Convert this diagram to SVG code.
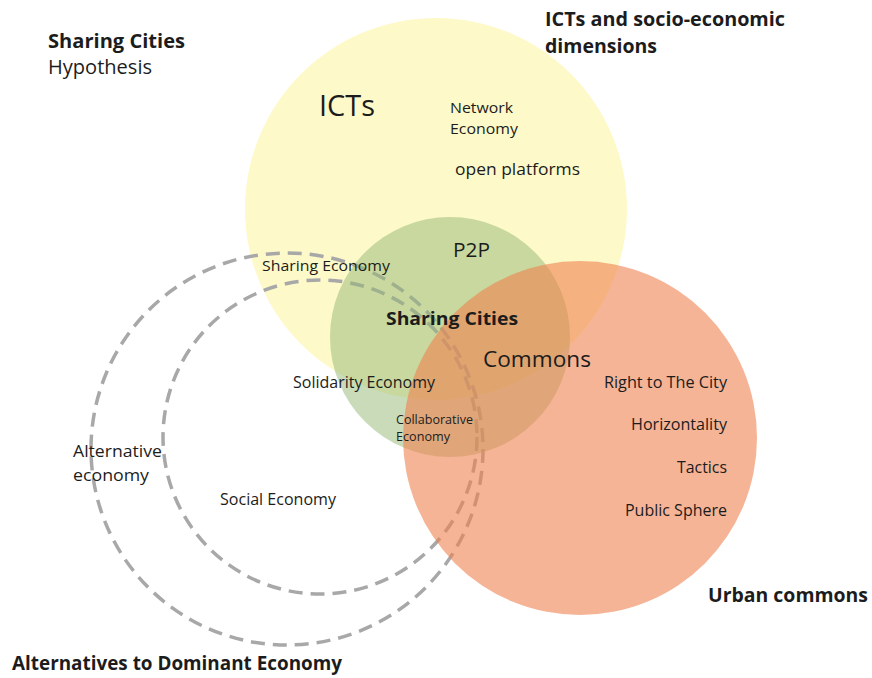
<svg xmlns="http://www.w3.org/2000/svg" width="872" height="678" viewBox="0 0 872 678">
  <style>
    text { font-family: "Open Sans", "Noto Sans", "Liberation Sans", sans-serif; fill: #1c1c1c; }
    .b { font-weight: 700; }
    .dash { fill: none; stroke: #a8a8a8; stroke-width: 3.5; stroke-dasharray: 14 8; }
    .end { text-anchor: end; }
  </style>
  <rect width="872" height="678" fill="#ffffff"/>

  <!-- ICTs circle -->
  <g id="icts">
    <circle cx="436" cy="209" r="191" fill="#fdf9c9"/>
  </g>

  <!-- Alternative economy rings (dashed) -->
  <g id="alternative-economy">
    <circle class="dash" cx="287" cy="449" r="196"/>
    <circle class="dash" cx="320" cy="437" r="157"/>
  </g>

  <!-- Sharing Cities core -->
  <g id="sharing-core">
    <circle cx="450" cy="337" r="120" fill="#93b874" fill-opacity="0.5"/>
  </g>

  <!-- Urban commons circle -->
  <g id="urban-commons">
    <circle cx="580" cy="438" r="177" fill="#f08250" fill-opacity="0.6"/>
  </g>

  <!-- Headings -->
  <g id="title">
    <text class="b" x="48" y="48" font-size="19.5" textLength="137" lengthAdjust="spacingAndGlyphs">Sharing Cities</text>
    <text x="48" y="74" font-size="19.5" textLength="104" lengthAdjust="spacingAndGlyphs">Hypothesis</text>
  </g>
  <g id="icts-heading">
    <text class="b" x="545" y="26" font-size="19" textLength="240" lengthAdjust="spacingAndGlyphs">ICTs and socio-economic</text>
    <text class="b" x="545" y="53" font-size="19" textLength="112" lengthAdjust="spacingAndGlyphs">dimensions</text>
  </g>
  <g id="urban-heading">
    <text class="b" x="708" y="602" font-size="19.5" textLength="160" lengthAdjust="spacingAndGlyphs">Urban commons</text>
  </g>
  <g id="alternatives-heading">
    <text class="b" x="12" y="670" font-size="19" textLength="330" lengthAdjust="spacingAndGlyphs">Alternatives to Dominant Economy</text>
  </g>

  <!-- Labels inside the ICTs circle -->
  <g id="icts-labels">
    <text x="319" y="116" font-size="29.5" textLength="56" lengthAdjust="spacingAndGlyphs">ICTs</text>
    <text x="450" y="113" font-size="15" textLength="63" lengthAdjust="spacingAndGlyphs">Network</text>
    <text x="450" y="134" font-size="15" textLength="68" lengthAdjust="spacingAndGlyphs">Economy</text>
    <text x="455" y="175" font-size="16" textLength="125" lengthAdjust="spacingAndGlyphs">open platforms</text>
  </g>

  <!-- Labels in the overlap area -->
  <g id="core-labels">
    <text x="453" y="257" font-size="19.5" textLength="37" lengthAdjust="spacingAndGlyphs">P2P</text>
    <text x="262" y="271" font-size="15" textLength="128" lengthAdjust="spacingAndGlyphs">Sharing Economy</text>
    <text class="b" x="386" y="325" font-size="18" textLength="132" lengthAdjust="spacingAndGlyphs">Sharing Cities</text>
    <text x="483" y="367" font-size="22.5" textLength="108" lengthAdjust="spacingAndGlyphs">Commons</text>
    <text x="293" y="388" font-size="15.5" textLength="142" lengthAdjust="spacingAndGlyphs">Solidarity Economy</text>
    <text x="396" y="424" font-size="12.5" textLength="77" lengthAdjust="spacingAndGlyphs">Collaborative</text>
    <text x="396" y="441" font-size="12.5" textLength="54" lengthAdjust="spacingAndGlyphs">Economy</text>
  </g>

  <!-- Labels inside the urban commons circle -->
  <g id="commons-labels">
    <text class="end" x="727" y="388" font-size="16" textLength="123" lengthAdjust="spacingAndGlyphs">Right to The City</text>
    <text class="end" x="727" y="430" font-size="16" textLength="96" lengthAdjust="spacingAndGlyphs">Horizontality</text>
    <text class="end" x="727" y="473" font-size="16" textLength="50" lengthAdjust="spacingAndGlyphs">Tactics</text>
    <text class="end" x="727" y="516" font-size="16" textLength="102" lengthAdjust="spacingAndGlyphs">Public Sphere</text>
  </g>

  <!-- Labels inside the dashed rings -->
  <g id="alternative-labels">
    <text x="73" y="457" font-size="16.5" textLength="89" lengthAdjust="spacingAndGlyphs">Alternative</text>
    <text x="73" y="481" font-size="16.5" textLength="76" lengthAdjust="spacingAndGlyphs">economy</text>
    <text x="220" y="505" font-size="16" textLength="116" lengthAdjust="spacingAndGlyphs">Social Economy</text>
  </g>
</svg>
